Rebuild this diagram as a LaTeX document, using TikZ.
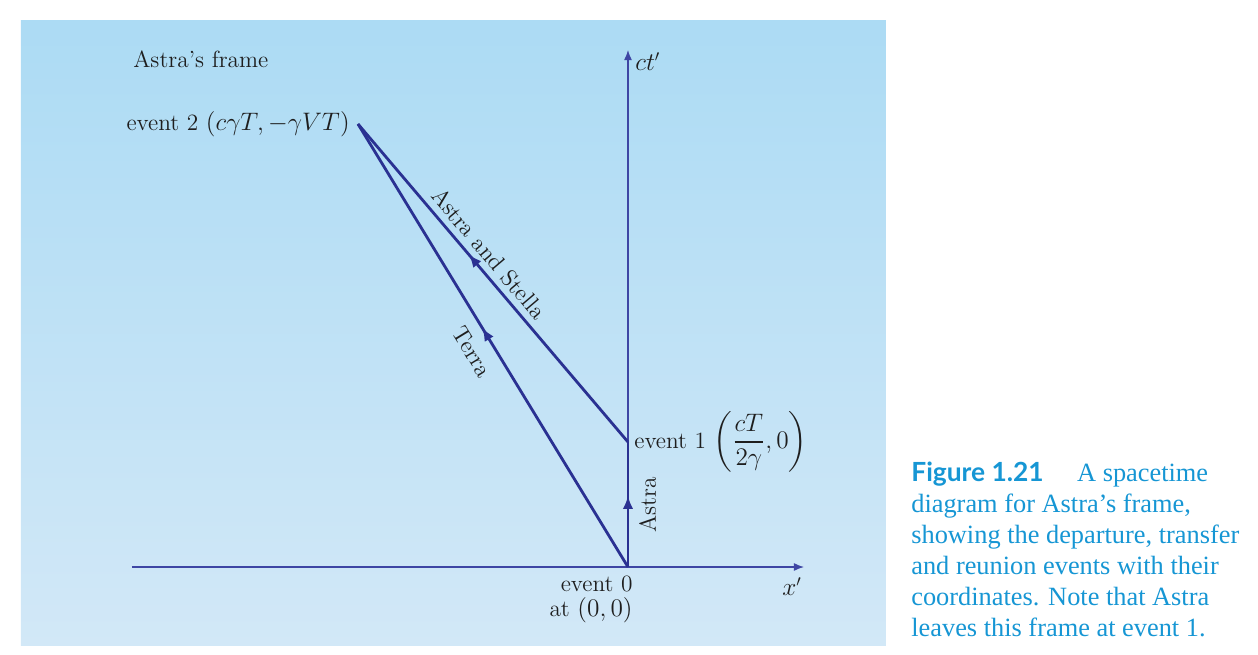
\documentclass[tikz,border=0pt]{standalone}
\usepackage{fontspec}
\usepackage{amsmath}
\usetikzlibrary{arrows.meta}
\usetikzlibrary{decorations.markings}
\usetikzlibrary{positioning}
\newfontfamily\capfont{Liberation Serif}
\newfontfamily\figfont{Lato}
\definecolor{linecol}{RGB}{42,49,146}
\definecolor{axiscol}{RGB}{62,70,164}
\definecolor{capcol}{RGB}{22,150,212}
\definecolor{bgtop}{RGB}{172,219,244}
\definecolor{bgbot}{RGB}{210,232,247}
\definecolor{labcol}{RGB}{30,30,30}

\begin{document}
\begin{tikzpicture}[scale=1]
        % ================= 样式定义 =================
        \tikzset{
            % 坐标轴 (细线)
            axis_line/.style={draw=axiscol, line width=0.7pt, -{Latex[length=5.8pt, width=4.6pt]}},
            % 世界线 (粗线)
            world_line/.style={draw=linecol, line width=1.6pt},
            % 线中间的箭头
            mid_arrow/.style={postaction={decorate}, decoration={markings, mark=at position #1 with {\arrow{Latex[length=7.5pt, width=6pt]}}}},
            % 普通文字
            ev_label/.style={font=\fontsize{13.3}{16}\selectfont, text=labcol, inner sep=0pt},
            % 沿线的文字
            line_label/.style={ev_label, sloped},
            % 图注
            cap_text/.style={font=\capfont\fontsize{15}{17.6}\selectfont, text=capcol, align=left, inner sep=0pt}
        }

        \useasboundingbox (-12.56,-1.76) rectangle (12.6,11.34);

        % ================= 背景 =================
        \shade[top color=bgtop, bottom color=bgbot] (-12.14,-1.56) rectangle (5.16,10.92);

        % ================= 事件点 =================
        \coordinate (e0) at (0,0);
        \coordinate (e1) at (0,2.5);
        \coordinate (e2) at (-5.4,8.86);
        \coordinate (xl) at (-9.92,0);
        \coordinate (xr) at (3.52,0);
        \coordinate (ctop) at (0,10.34);

        % 坐标轴
        \draw[axis_line] (xl) -- (xr);
        \draw[axis_line] (e0) -- (ctop);

        % 世界线
        \draw[world_line, mid_arrow=0.57] (e0) -- node[line_label, below, pos=0.5, inner sep=5.5pt] {Astra} (e1);
        \draw[world_line, mid_arrow=0.54] (e0) -- node[line_label, below, pos=0.51, inner sep=6.5pt] {Terra} (e2);
        \draw[world_line, mid_arrow=0.59] (e1) -- node[line_label, above, pos=0.56, inner sep=3.5pt] {Astra and Stella} (e2);

        % ================= 标签 =================
        \node[ev_label, anchor=base west] (title) at (-9.9,9.98) {Astra’s frame};
        \node[ev_label, left=0.16cm of e2] (lab2) {event 2 \((c\gamma T,-\gamma VT)\)};
        \node[ev_label, right=0.12cm of e1] (lab1) {event 1 \(\left(\dfrac{cT}{2\gamma},0\right)\)};
        \node[ev_label, anchor=north east, align=right, font=\fontsize{13.3}{14.2}\selectfont] (lab0) at ([xshift=0.1cm, yshift=-0.18cm]e0) {event 0\\at \((0,0)\)};
        \node[ev_label, anchor=north east] (xlab) at ([xshift=-0.04cm, yshift=-0.2cm]xr) {\(x'\)};
        \node[ev_label, anchor=north west] (ctlab) at ([xshift=0.14cm, yshift=-0.04cm]ctop) {\(ct'\)};

        % ================= 图注 =================
        \node[cap_text, anchor=north west] (cap) at (5.66,2.1) {{\figfont\bfseries Figure 1.21}\hspace{19pt}A spacetime\\
            diagram for Astra’s frame,\\
            showing the departure, transfer\\
            and reunion events with their\\
            coordinates. Note that Astra\\
            leaves this frame at event 1.};

    \end{tikzpicture}
\end{document}
